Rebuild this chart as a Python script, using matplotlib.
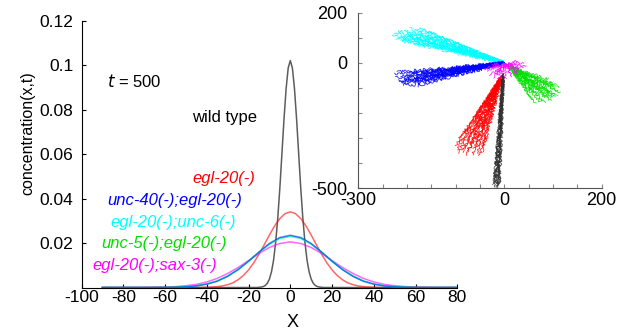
import matplotlib.pyplot as plt

plt.rcParams["font.family"] = ["Liberation Sans", "DejaVu Sans"]
plt.rcParams["font.size"] = 12
plt.rcParams["axes.unicode_minus"] = False

# concentration profiles at t = 500
x_wide = list(range(-90, 81, 5))
unc40_egl20 = [0, 0, 0, 0, 0, 0, 0, .0001, .0003, .0007, .0015, .0028, .0050, .0080, .0118, .0159, .0198, .0225,
               .0235,
               .0225, .0198, .0159, .0118, .0080, .0050, .0028, .0015, .0007, .0003, .0001, 0, 0, 0, 0, 0]
egl20_unc6 = [0, 0, 0, 0, 0, 0, 0, .0001, .0003, .0008, .0016, .0029, .0051, .0081, .0118, .0159, .0196, .0222,
              .0232,
              .0222, .0196, .0159, .0118, .0081, .0051, .0029, .0016, .0008, .0003, .0001, 0, 0, 0, 0, 0]
unc5_egl20 = [0, 0, 0, 0, 0, 0, .0001, .0002, .0004, .0008, .0016, .0030, .0052, .0082, .0119, .0159, .0195, .0221,
              .0230,
              .0221, .0195, .0159, .0119, .0082, .0052, .0030, .0016, .0008, .0004, .0002, .0001, 0, 0, 0, 0]
egl20_sax3 = [0, 0, 0, 0, 0, .0001, .0002, .0004, .0008, .0014, .0025, .0041, .0063, .0090, .0121, .0153, .0180, .0198,
              .0205,
              .0198, .0180, .0153, .0121, .0090, .0063, .0041, .0025, .0014, .0008, .0004, .0002, .0001, 0, 0, 0]

x_red = [-90] + [i * 2.5 for i in range(-18, 19)] + [80]
egl20 = [0, 0, 0, .0001, .0002, .0004, .0007, .0013, .0021, .0035, .0054, .0079, .0111, .0150, .0192, .0236, .0277,
         .0310, .0332,
         .0340,
         .0332, .0310, .0277, .0236, .0192, .0150, .0111, .0079, .0054, .0035, .0021, .0013, .0007, .0004, .0002,
         .0001, 0, 0, 0]

x_wt = [-90] + list(range(-20, 21)) + [80]
wild_type = [0, 0, 0, 0, 0, 0, .0001, .0002, .0004, .0009, .0019, .0038, .0071, .0124, .0204, .0312, .0448, .0603,
             .0759, .0894, .0987,
             .1020,
             .0987, .0894, .0759, .0603, .0448, .0312, .0204, .0124, .0071, .0038, .0019, .0009, .0004, .0002, .0001,
             0, 0, 0, 0, 0, 0]

# trajectory end points of the migrating cells (inset)
traj_start = {"cyan": (0, 0), "blue": (0, 0), "#00e000": (8, -12), "red": (-6, -55),
              "#303030": (-2, -45), "magenta": (3, -5)}
traj_end_x = {
    "cyan": [-230, -226, -222, -218, -212, -206, -200, -195, -190, -184, -178, -172, -165, -158, -150, -215, -205,
             -196, -186, -175],
    "blue": [-225, -223, -220, -217, -213, -208, -204, -200, -196, -190, -184, -178, -170, -162, -150, -215, -205,
             -195, -180, -165],
    "#00e000": [115, 112, 108, 105, 100, 96, 92, 88, 84, 80, 75, 70, 64, 58, 54, 110, 98, 90, 72, 102],
    "red": [-100, -97, -94, -90, -86, -82, -78, -74, -70, -66, -62, -58, -54, -50, -46, -42, -92, -80, -68, -56],
    "#303030": [-22, -20, -18, -16, -14, -12, -10, -19, -15, -11],
    "magenta": [-35, -30, -22, -12, 2, 15, 28, 38, 45, 40, 25, -25, -40, 10, 30, 18, -5, -18],
}
traj_end_y = {
    "cyan": [110, 120, 100, 125, 95, 130, 115, 135, 105, 128, 138, 118, 132, 125, 112, 90, 108, 98, 120, 100],
    "blue": [-45, -60, -38, -72, -52, -85, -62, -92, -48, -78, -66, -88, -58, -74, -55, -80, -70, -40, -50, -35],
    "#00e000": [-118, -100, -135, -92, -125, -150, -108, -140, -160, -118, -155, -130, -162, -145, -120, -110,
                -80, -65, -100, -140],
    "red": [-330, -345, -360, -320, -355, -338, -368, -350, -325, -365, -342, -360, -335, -370, -352, -330,
            -300, -280, -290, -310],
    "#303030": [-485, -495, -490, -480, -500, -488, -478, -470, -496, -482],
    "magenta": [-30, -50, -60, -66, -62, -55, -42, -25, -10, 2, 10, -10, -22, -40, -28, -8, -35, -45],
}

fig = plt.figure(figsize=(6.3, 3.33), dpi=100)
ax = fig.add_axes([0.1294, 0.1366, 0.5965, 0.8018])

ax.plot(x_wt, wild_type, color="#404040", lw=1.1, alpha=0.85)
ax.plot(x_red, egl20, color="red", lw=1.1, alpha=0.6)
ax.plot(x_wide, egl20_sax3, color="magenta", lw=1.1, alpha=0.6)
ax.plot(x_wide, unc5_egl20, color="#00e000", lw=1.1, alpha=0.6)
ax.plot(x_wide, egl20_unc6, color="cyan", lw=1.1, alpha=0.7)
ax.plot(x_wide, unc40_egl20, color="blue", lw=1.1, alpha=0.5)

ax.set_xlim(-100, 80)
ax.set_ylim(0, 0.12)
ax.set_xticks(range(-100, 81, 20))
ax.set_yticks([0.02, 0.04, 0.06, 0.08, 0.1, 0.12])
ax.set_yticklabels(["0.02", "0.04", "0.06", "0.08", "0.1", "0.12"])
ax.tick_params(axis="x", direction="in", length=3, pad=2, labelsize=12.5)
ax.tick_params(axis="y", direction="in", length=3, pad=6, labelsize=12.5)
ax.spines["top"].set_visible(False)
ax.spines["right"].set_visible(False)
ax.set_xlabel("X", fontsize=13)
ax.xaxis.set_label_coords(0.561, -0.1)
ax.set_ylabel("concentration(x,t)", fontsize=11.5)
ax.yaxis.set_label_coords(-0.122, 0.58)

ax.text(-87.8, 0.0924, "$t$ = 500", fontsize=12, va="center")
ax.text(-47, 0.0766, "wild type", fontsize=12, va="center")
labels = ["egl-20(-)", "unc-40(-);egl-20(-)", "egl-20(-);unc-6(-)", "unc-5(-);egl-20(-)", "egl-20(-);sax-3(-)"]
label_x = [-31.9, -55.6, -55.9, -60.4, -64.7]
label_y = [0.0492, 0.0393, 0.0294, 0.0196, 0.0097]
label_colors = ["red", "blue", "cyan", "#00e000", "magenta"]
for s, lx, ly, c in zip(labels, label_x, label_y, label_colors):
    ax.text(lx, ly, s, color=c, fontsize=12, style="italic", ha="center", va="center")

# inset: cell trajectories, drawn as jittery paths
ins = fig.add_axes([0.5687, 0.4345, 0.3863, 0.5273])
ins.patch.set_alpha(0)
for c in ["cyan", "blue", "#00e000", "red", "#303030", "magenta"]:
    x0, y0 = traj_start[c]
    for i, (xe, ye) in enumerate(zip(traj_end_x[c], traj_end_y[c])):
        line, = ins.plot([x0, xe], [y0, ye], color=c, lw=0.6, alpha=0.85)
        line.set_sketch_params(1.0 + 0.35 * (i % 4), 1.8 + 0.55 * (i % 5), 5.0 + 2.0 * (i % 3))
ins.set_xlim(-300, 200)
ins.set_ylim(-500, 200)
ins.set_xticks(range(-300, 201, 50))
ins.set_xticklabels(["-300", "", "", "", "", "", "0", "", "", "", "200"])
ins.set_yticks(range(-500, 201, 100))
ins.set_yticklabels(["-500", "", "", "", "", "0", "", "200"])
ins.tick_params(direction="in", length=3, colors="#888888", labelcolor="black", labelsize=13)
ins.tick_params(axis="x", pad=3)
ins.tick_params(axis="y", pad=8)
ins.spines["top"].set_visible(False)
ins.spines["right"].set_visible(False)
ins.spines["left"].set_color("#555555")
ins.spines["bottom"].set_color("#555555")

plt.savefig("out.png", dpi=100)
